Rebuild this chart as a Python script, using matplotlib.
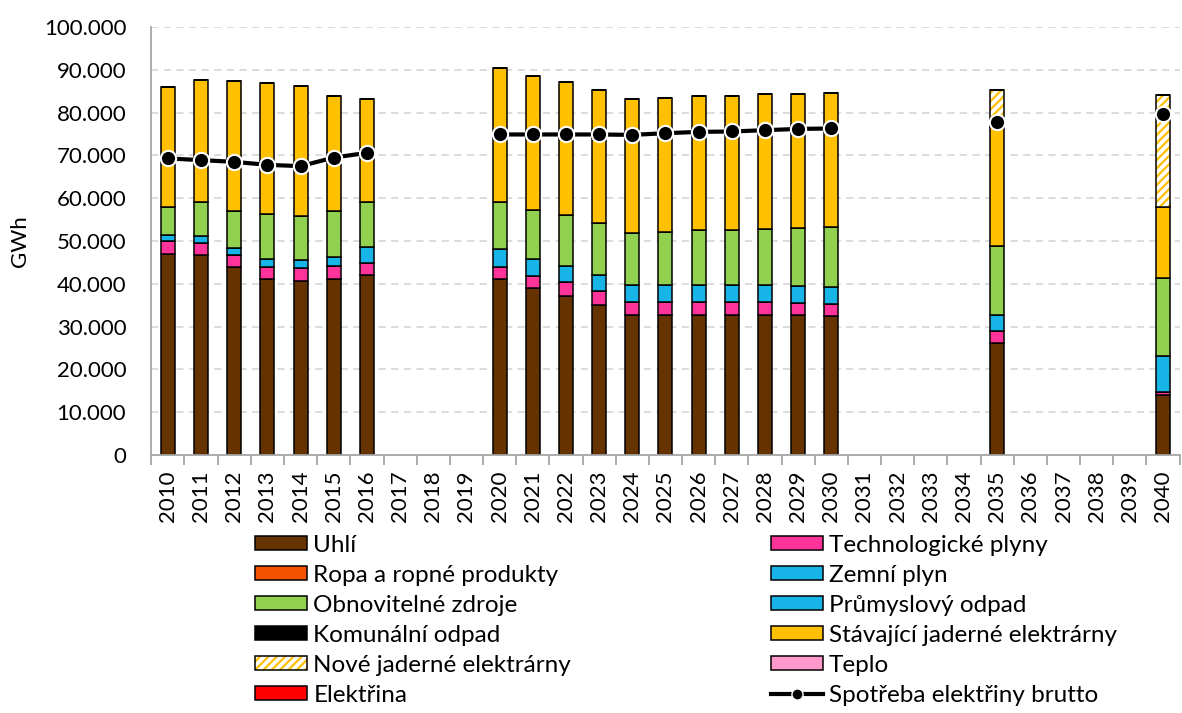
import numpy as np
import matplotlib
matplotlib.use("Agg")
import matplotlib.pyplot as plt
from matplotlib.ticker import FuncFormatter, FixedLocator
from matplotlib.lines import Line2D

plt.rcParams['font.family'] = ['Lato', 'DejaVu Sans']
plt.rcParams['hatch.linewidth'] = 1.6

# category axis: every year 2010-2040, bars only in some of them
categories = list(range(2010, 2041))
data_years = [2010, 2011, 2012, 2013, 2014, 2015, 2016,
              2020, 2021, 2022, 2023, 2024, 2025, 2026, 2027, 2028, 2029, 2030,
              2035, 2040]

# GWh
uhli = [47000, 46700, 44000, 41200, 40700, 41200, 42100,
        41200, 39000, 37100, 35000, 32600, 32600, 32600, 32600, 32600, 32600, 32500,
        26100, 14000]
tech_plyny = [3100, 2900, 2800, 2700, 3000, 2900, 2800,
              2800, 2900, 3200, 3200, 3100, 3100, 3100, 3100, 3100, 2900, 2800,
              2900, 600]
ropa = [0] * 20
zemni_plyn = [1300, 1600, 1500, 2000, 1900, 2200, 3800,
              4100, 3900, 3900, 3900, 3900, 3900, 3900, 3900, 3900, 4000, 4000,
              3700, 8600]
obnovitelne = [6500, 8000, 8800, 10300, 10200, 10700, 10400,
               11000, 11500, 11800, 12000, 12200, 12600, 12900, 13000, 13200, 13600, 14000,
               16200, 18100]
prumysl_odpad = [0] * 20
komunalni_odpad = [0] * 20
stavajici_je = [28100, 28400, 30400, 30800, 30500, 26900, 24200,
                31300, 31300, 31100, 31300, 31300, 31200, 31400, 31400, 31500, 31300, 31400,
                27800, 16700]
nove_je = [0] * 18 + [8600, 26200]
teplo = [0] * 20
elektrina = [0] * 20
spotreba = [69300, 68900, 68500, 67800, 67500, 69500, 70600,
            74900, 74900, 74900, 74900, 74800, 75200, 75500, 75600, 75900, 76200, 76300,
            77900, 79800]


def full(vals):
    out = np.full(len(categories), np.nan)
    for y, v in zip(data_years, vals):
        out[categories.index(y)] = v
    return out


series = [
    ("Uhlí", uhli, "#663300"),
    ("Technologické plyny", tech_plyny, "#FF3399"),
    ("Ropa a ropné produkty", ropa, "#F55200"),
    ("Zemní plyn", zemni_plyn, "#17B4E8"),
    ("Obnovitelné zdroje", obnovitelne, "#92D050"),
    ("Průmyslový odpad", prumysl_odpad, "#17B4E8"),
    ("Komunální odpad", komunalni_odpad, "#000000"),
    ("Stávající jaderné elektrárny", stavajici_je, "#FFC000"),
    ("Nové jaderné elektrárny", nove_je, "hatch"),
    ("Teplo", teplo, "#FF99CC"),
    ("Elektřina", elektrina, "#FF0000"),
]

fig = plt.figure(figsize=(11.82, 7.13), dpi=100)
ax = fig.add_axes([0.128, 0.362, 0.870, 0.600])

x = np.arange(len(categories))
width = 0.42
bottom = np.zeros(len(categories))
handles = {}
for name, vals, col in series:
    v = full(vals)
    if col == "hatch":
        h1 = ax.bar(x, v, width, bottom=bottom, color="white", edgecolor="#FFC000",
                    hatch="////", linewidth=0, zorder=2)
        h2 = ax.bar(x, v, width, bottom=bottom, fill=False, edgecolor="black",
                    linewidth=1.1, zorder=2)
        handles[name] = (h1, h2)
    else:
        h = ax.bar(x, v, width, bottom=bottom, color=col, edgecolor="black",
                   linewidth=1.1, zorder=2)
        handles[name] = h
    bottom = bottom + np.nan_to_num(v)

line, = ax.plot(x, full(spotreba), color="black", lw=3, marker="o", markersize=11,
                markerfacecolor="black", markeredgecolor="white", markeredgewidth=1.5,
                zorder=4)
handles["Spotřeba elektřiny brutto"] = Line2D([], [], color="black", lw=3, marker="o",
                                               markersize=8, markerfacecolor="black",
                                               markeredgecolor="white")

ax.set_xlim(-0.5, len(categories) - 0.5)
ax.set_ylim(0, 100000)
ax.yaxis.set_major_locator(FixedLocator(np.arange(0, 100001, 10000)))
ax.yaxis.set_major_formatter(FuncFormatter(lambda v, p: f"{v:,.0f}".replace(",", ".")))
ax.grid(axis="y", color="#D9D9D9", linestyle=(0, (4, 3)), linewidth=1.3)
ax.set_axisbelow(True)

ax.set_xticks(x)
ax.set_xticklabels([str(c) for c in categories], rotation=90, fontsize=16)
ax.set_xticks(np.arange(-0.5, len(categories)), minor=True)
ax.tick_params(axis="x", which="major", length=0, pad=11)
ax.tick_params(axis="x", which="minor", length=7, width=1.3, color="#A6A6A6")
ax.tick_params(axis="y", length=0, pad=18, labelsize=16)

for s in ["top", "right"]:
    ax.spines[s].set_visible(False)
for s in ["left", "bottom"]:
    ax.spines[s].set_color("#A6A6A6")
    ax.spines[s].set_linewidth(1.3)

ax.set_ylabel("GWh", fontsize=16)
ax.yaxis.set_label_coords(-0.118, 0.5)

left_names = ["Uhlí", "Ropa a ropné produkty", "Obnovitelné zdroje", "Komunální odpad",
              "Nové jaderné elektrárny", "Elektřina"]
right_names = ["Technologické plyny", "Zemní plyn", "Průmyslový odpad",
               "Stávající jaderné elektrárny", "Teplo", "Spotřeba elektřiny brutto"]

leg_kw = dict(frameon=False, fontsize=17.5, handlelength=2.15, handleheight=0.55,
              handletextpad=0.25, labelspacing=0.37, borderpad=0, borderaxespad=0,
              loc="upper left")
leg1 = fig.legend([handles[n] for n in left_names], left_names,
                  bbox_to_anchor=(0.2157, 0.250), **leg_kw)
leg2 = fig.legend([handles[n] for n in right_names], right_names,
                  bbox_to_anchor=(0.652, 0.250), **leg_kw)

fig.savefig("out.png", dpi=100)
